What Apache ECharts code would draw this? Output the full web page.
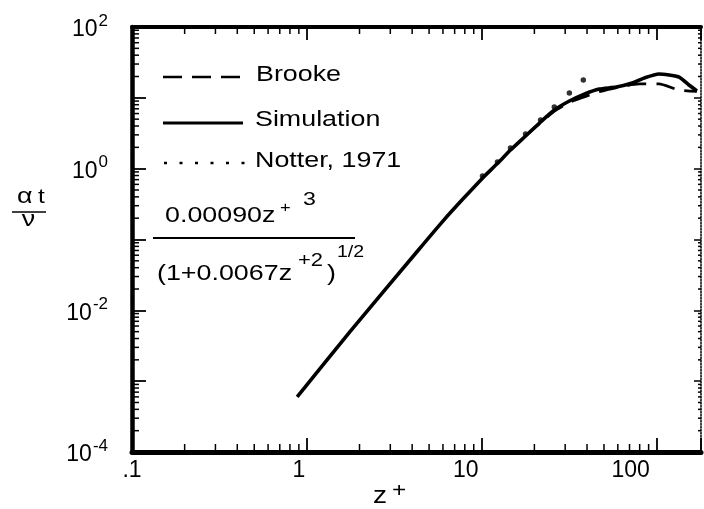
<!DOCTYPE html>
<html>
<head>
<meta charset="utf-8">
<script src="https://cdn.jsdelivr.net/npm/echarts@6/dist/echarts.min.js"></script>
<style>
  html, body { margin: 0; padding: 0; background: #fff; }
  #chart { width: 704px; height: 509px; }
</style>
</head>
<body>
<div id="chart"></div>
<script>
// Eddy diffusivity for heat, alpha_t / nu, against wall distance z+ (log-log)
const simulationZ     = [0.88, 1.77, 4.32, 6.00, 7.80, 10.1, 12.2, 14.6, 17.8, 21.7, 26.0, 31.7, 38.6, 47.0, 58.8, 72.5, 84.8, 103, 134, 153, 170];
const simulationAlpha = [6.0e-4, 0.00505, 0.0700, 0.182, 0.372, 0.735, 1.16, 1.83, 2.89, 4.56, 6.73, 9.02, 11.3, 13.3, 14.2, 16.2, 19.0, 21.7, 19.7, 15.2, 12.5];

const brookeZ     = [17.8, 26.0, 31.7, 38.6, 47.0, 61.1, 79.4, 103, 134, 170];
const brookeAlpha = [2.89, 6.5, 8.6, 10.3, 12.2, 14.2, 15.7, 15.7, 12.9, 12.3];

const notterZ     = [10.1, 12.3, 14.6, 17.8, 21.7, 26.0, 31.7, 38.1];
const notterAlpha = [0.786, 1.24, 1.95, 3.08, 4.86, 7.41, 11.7, 17.8];

const xTickLabels    = ['.1', '1', '10', '100'];
const yTickExponents = ['-4', '-2', '0', '2'];

const X_MIN = 0.1, X_MAX = 179.4;
const Y_MIN = 1e-4, Y_MAX = 1e2;
const FONT = '"Liberation Sans", Arial, Helvetica, sans-serif';
const TEXT_STRETCH = 1.22;

// hand-set label nudges along the z+ axis (px, negative = left)
const xLabelShift = [0, -8, -16, -26];

// log minor tick positions (2..9 within each decade)
const xMinor = [], yMinor = [];
for (let d = -1; d <= 2; d++) for (let m = 2; m <= 9; m++) {
  const v = m * Math.pow(10, d);
  if (v < X_MAX) xMinor.push(v);
}
for (let d = -4; d <= 1; d++) for (let m = 2; m <= 9; m++) yMinor.push(m * Math.pow(10, d));

const pairs = (xs, ys) => xs.map((x, i) => [x, ys[i]]);
const isDecade = v => Math.abs(Math.log10(v) - Math.round(Math.log10(v))) < 1e-6;

const xRich = {};
xLabelShift.forEach((s, i) => {
  xRich['s' + i] = { fontSize: 23, fontFamily: FONT, color: '#000', padding: [0, -2 * s, 0, 0] };
});

function txt(x, y, text, size, align) {
  return {
    type: 'text', x: x, y: y, scaleX: TEXT_STRETCH, silent: true,
    style: { text: text, fontSize: size, fontFamily: FONT, fill: '#000',
             align: align || 'left', verticalAlign: 'middle' }
  };
}
function seg(x1, y1, x2, y2, w, dash) {
  return {
    type: 'line', silent: true,
    shape: { x1: x1, y1: y1, x2: x2, y2: y2 },
    style: { stroke: '#000', lineWidth: w, lineDash: dash || null }
  };
}

const chart = echarts.init(document.getElementById('chart'), null, { renderer: 'canvas' });

const baseX = {
  type: 'log', logBase: 10, min: X_MIN, max: X_MAX, interval: 1,
  splitLine: { show: false }
};
const baseY = {
  type: 'log', logBase: 10, min: Y_MIN, max: Y_MAX, interval: 1,
  splitLine: { show: false }
};

chart.setOption({
  animation: false,
  backgroundColor: '#fff',
  grid: { left: 132, right: 1, top: 27, bottom: 57, containLabel: false },
  xAxis: [
    Object.assign({}, baseX, {
      position: 'bottom',
      axisLine: { show: true, lineStyle: { color: '#000', width: 5 } },
      axisTick: { show: true, inside: true, length: 14, lineStyle: { color: '#000', width: 1.8 } },
      axisLabel: {
        margin: 7, color: '#000', fontSize: 23, fontFamily: FONT,
        formatter: v => {
          if (!isDecade(v)) return '';
          const i = Math.round(Math.log10(v)) + 1;
          return (i >= 0 && i < xTickLabels.length) ? '{s' + i + '|' + xTickLabels[i] + '}' : '';
        },
        rich: xRich
      }
    }),
    Object.assign({}, baseX, {
      position: 'top',
      axisLine: { show: true, lineStyle: { color: '#000', width: 4 } },
      axisTick: { show: true, inside: true, length: 13, lineStyle: { color: '#000', width: 1.8 } },
      axisLabel: { show: false }
    })
  ],
  yAxis: [
    Object.assign({}, baseY, {
      position: 'left',
      axisLine: { show: true, lineStyle: { color: '#000', width: 4.5 } },
      axisTick: { show: true, inside: true, length: 14, lineStyle: { color: '#000', width: 1.8 } },
      axisLabel: {
        margin: 24, color: '#000',
        formatter: v => {
          const e = String(Math.round(Math.log10(v)));
          return (isDecade(v) && yTickExponents.indexOf(e) >= 0) ? '{b|10}{s|' + e + '}' : '';
        },
        rich: {
          b: { fontSize: 23, fontFamily: FONT, color: '#000', verticalAlign: 'bottom' },
          s: { fontSize: 17, fontFamily: FONT, color: '#000', verticalAlign: 'bottom', padding: [0, 0, 12, 1] }
        }
      }
    }),
    Object.assign({}, baseY, {
      position: 'right',
      axisLine: { show: true, lineStyle: { color: '#000', width: 1.5, type: 'dotted' } },
      axisTick: { show: true, inside: true, length: 7, lineStyle: { color: '#000', width: 1.5 } },
      axisLabel: { show: false }
    })
  ],
  series: [
    {
      name: 'Brooke', type: 'line', xAxisIndex: 0, yAxisIndex: 0,
      data: pairs(brookeZ, brookeAlpha),
      showSymbol: false, smooth: 0.2,
      lineStyle: { color: '#000', width: 2.8, type: [19, 10] },
      z: 3
    },
    {
      name: 'Simulation', type: 'line', xAxisIndex: 0, yAxisIndex: 0,
      data: pairs(simulationZ, simulationAlpha),
      showSymbol: false, smooth: 0.2,
      lineStyle: { color: '#000', width: 3.6 },
      z: 4
    },
    {
      name: 'Notter, 1971', type: 'scatter', xAxisIndex: 0, yAxisIndex: 0,
      data: pairs(notterZ, notterAlpha),
      symbol: 'circle', symbolSize: 5.5,
      itemStyle: { color: '#000' },
      z: 5
    },
    {
      name: 'minor ticks', type: 'custom', xAxisIndex: 0, yAxisIndex: 0,
      clip: false, silent: true,
      data: xMinor.map(v => [v, Y_MIN, 0]).concat(yMinor.map(v => [X_MIN, v, 1])),
      renderItem: function (params, api) {
        const kind = api.value(2);
        const st = { stroke: '#000', lineWidth: 1.5 };
        if (kind === 0) {
          const v = api.value(0);
          const b = api.coord([v, Y_MIN]), t = api.coord([v, Y_MAX]);
          return { type: 'group', children: [
            { type: 'line', shape: { x1: b[0], y1: b[1], x2: b[0], y2: b[1] - 8 }, style: st },
            { type: 'line', shape: { x1: t[0], y1: t[1], x2: t[0], y2: t[1] + 7 }, style: st }
          ] };
        }
        const w = api.value(1);
        const l = api.coord([X_MIN, w]), r = api.coord([X_MAX, w]);
        return { type: 'group', children: [
          { type: 'line', shape: { x1: l[0], y1: l[1], x2: l[0] + 7, y2: l[1] }, style: st },
          { type: 'line', shape: { x1: r[0], y1: r[1], x2: r[0] - 3, y2: r[1] }, style: st }
        ] };
      },
      z: 6
    }
  ],
  graphic: [
    // key
    seg(163, 77, 242, 77, 2.6, [19, 10]),
    txt(256, 75, 'Brooke', 22),
    seg(163, 123, 243, 123, 3),
    txt(255, 120, 'Simulation', 22),
    seg(164, 163, 245, 163, 2.6, [3, 12.5]),
    txt(255, 160.5, 'Notter, 1971', 22),

    // near-wall fit: 0.00090 z+^3 / (1 + 0.0067 z+^2)^(1/2)
    txt(165, 216, '0.00090z', 22),
    txt(280, 208, '+', 15),
    txt(303, 200, '3', 19),
    seg(153, 238, 355, 238, 2),
    txt(157, 274, '(1+0.0067z', 22),
    txt(298, 261.5, '+2', 18),
    txt(327, 274, ')', 22),
    txt(337, 253, '1/2', 16),

    // y-axis title: alpha_t / nu
    txt(17, 197, 'α', 22),
    txt(38, 197, 't', 20),
    seg(12, 212, 46, 212, 1.5),
    txt(28.5, 220, 'ν', 22, 'center'),

    // x-axis title: z+
    txt(373, 496.5, 'z', 23),
    txt(392, 491.5, '+', 20)
  ]
});
</script>
</body>
</html>
